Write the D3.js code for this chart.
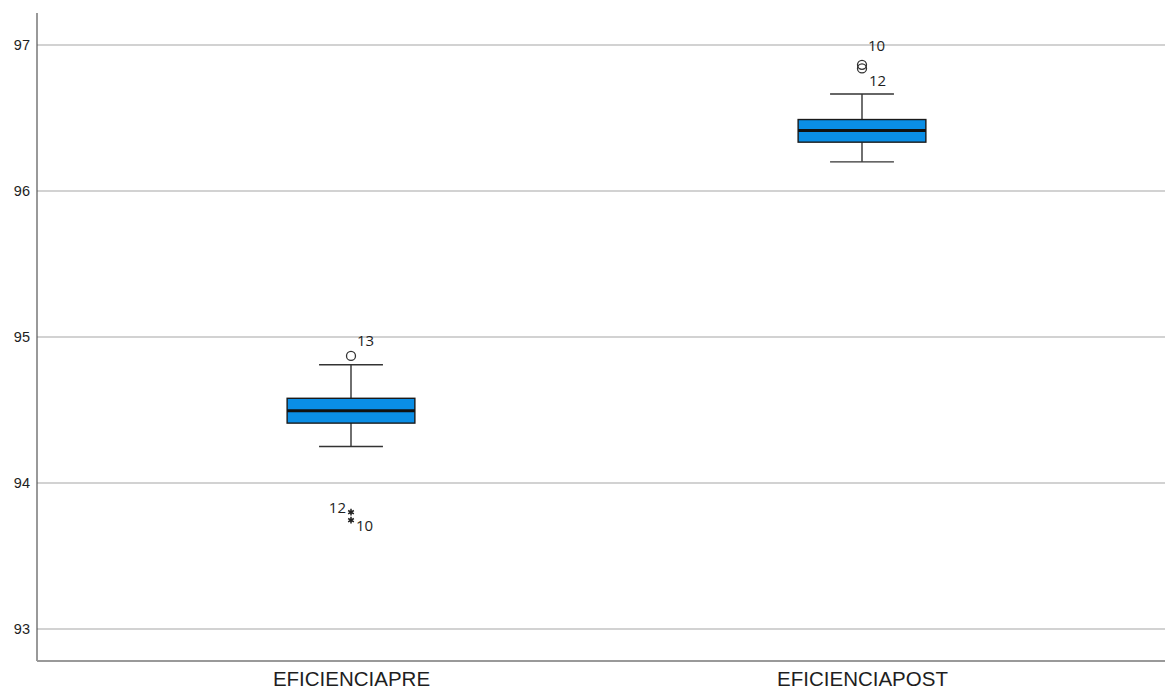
<!DOCTYPE html>
<html>
<head>
<meta charset="utf-8">
<script src="https://cdn.jsdelivr.net/npm/d3@7"></script>
<style>
  html, body { margin: 0; padding: 0; background: #fff; }
  svg { display: block; font-family: "Open Sans", "DejaVu Sans", sans-serif; }
</style>
</head>
<body>
<svg id="chart" width="1165" height="690"></svg>
<script>
// Box plot summary for the two efficiency measurements
const categories = ["EFICIENCIAPRE", "EFICIENCIAPOST"];
const q1Values      = [94.41, 96.335];
const medianValues  = [94.495, 96.415];
const q3Values      = [94.58, 96.49];
const whiskerLow    = [94.25, 96.20];
const whiskerHigh   = [94.81, 96.665];

// Outliers (circle) and extreme values (asterisk), with case labels
const outlierCategory = ["EFICIENCIAPRE", "EFICIENCIAPOST", "EFICIENCIAPOST"];
const outlierValues   = [94.87, 96.865, 96.84];
const outlierLabels   = ["13", "10", "12"];
const extremeCategory = ["EFICIENCIAPRE", "EFICIENCIAPRE"];
const extremeValues   = [93.80, 93.745];
const extremeLabels   = ["12", "10"];

const yTicks = [93, 94, 95, 96, 97];

const svg = d3.select("#chart");
const W = 1165, H = 690;
const plotLeft = 37, plotTop = 13, plotBottom = 661;

const y = d3.scaleLinear().domain([92.78, 97.22]).range([plotBottom, plotTop]);
const x = d3.scalePoint().domain(categories).range([95.5, 1117.5]).padding(0.5);
const boxW = x.step() * 0.25;

// Gridlines
svg.append("g")
  .selectAll("line")
  .data(yTicks)
  .join("line")
  .attr("x1", plotLeft).attr("x2", W)
  .attr("y1", d => y(d)).attr("y2", d => y(d))
  .attr("stroke", "#d2d2d2").attr("stroke-width", 2);

// Y axis
const yAxis = svg.append("g")
  .attr("transform", `translate(${plotLeft},0)`)
  .call(d3.axisLeft(y).tickValues(yTicks).tickSize(0).tickPadding(7).tickFormat(d3.format("d")));
yAxis.select(".domain").remove();
yAxis.selectAll("text").attr("font-size", 14.5).attr("fill", "#1e1e1e");
svg.append("line")
  .attr("x1", plotLeft).attr("x2", plotLeft).attr("y1", plotTop).attr("y2", plotBottom)
  .attr("stroke", "#555").attr("stroke-width", 1.2);

// X axis
const xAxis = svg.append("g")
  .attr("transform", `translate(0,${plotBottom})`)
  .call(d3.axisBottom(x).tickSize(0).tickPadding(10));
xAxis.select(".domain").remove();
xAxis.selectAll("text").attr("font-size", 20.5).attr("fill", "#1e1e1e");
svg.append("line")
  .attr("x1", plotLeft).attr("x2", W).attr("y1", plotBottom).attr("y2", plotBottom)
  .attr("stroke", "#999").attr("stroke-width", 2);

// Boxes
const boxes = categories.map((c, i) => ({
  c, q1: q1Values[i], med: medianValues[i], q3: q3Values[i], lo: whiskerLow[i], hi: whiskerHigh[i]
}));
const g = svg.append("g");
const b = g.selectAll("g.box").data(boxes).join("g").attr("class", "box");

// whisker stems
b.append("line")
  .attr("x1", d => x(d.c)).attr("x2", d => x(d.c))
  .attr("y1", d => y(d.hi)).attr("y2", d => y(d.q3))
  .attr("stroke", "#333").attr("stroke-width", 1.4);
b.append("line")
  .attr("x1", d => x(d.c)).attr("x2", d => x(d.c))
  .attr("y1", d => y(d.q1)).attr("y2", d => y(d.lo))
  .attr("stroke", "#333").attr("stroke-width", 1.4);
// caps
["hi", "lo"].forEach(k => {
  b.append("line")
    .attr("x1", d => x(d.c) - boxW / 4).attr("x2", d => x(d.c) + boxW / 4)
    .attr("y1", d => y(d[k])).attr("y2", d => y(d[k]))
    .attr("stroke", "#333").attr("stroke-width", 1.4);
});
// box body
b.append("rect")
  .attr("x", d => x(d.c) - boxW / 2).attr("width", boxW)
  .attr("y", d => y(d.q3)).attr("height", d => y(d.q1) - y(d.q3))
  .attr("fill", "#0a8ee6").attr("stroke", "#1a1a1a").attr("stroke-width", 1.4);
// median
b.append("line")
  .attr("x1", d => x(d.c) - boxW / 2).attr("x2", d => x(d.c) + boxW / 2)
  .attr("y1", d => y(d.med)).attr("y2", d => y(d.med))
  .attr("stroke", "#111").attr("stroke-width", 3);

// Outlier circles
const outliers = outlierValues.map((v, i) => ({ c: outlierCategory[i], v, label: outlierLabels[i] }));
g.selectAll("circle.out").data(outliers).join("circle")
  .attr("class", "out")
  .attr("cx", d => x(d.c)).attr("cy", d => y(d.v)).attr("r", 4.5)
  .attr("fill", "none").attr("stroke", "#333").attr("stroke-width", 1.3);

// Outlier labels: PRE label above-right; POST labels above and below
const outLabelOffset = [[6, -10], [6, -14], [7, 18]];
g.selectAll("text.outlbl").data(outliers).join("text")
  .attr("class", "outlbl")
  .attr("x", (d, i) => x(d.c) + outLabelOffset[i][0])
  .attr("y", (d, i) => y(d.v) + outLabelOffset[i][1])
  .attr("font-size", 15).attr("fill", "#1e1e1e")
  .text(d => d.label);

// Extreme values (asterisk symbols)
const extremes = extremeValues.map((v, i) => ({ c: extremeCategory[i], v, label: extremeLabels[i] }));
const asterisk = d3.symbol().type(d3.symbolAsterisk).size(30);
g.selectAll("path.star").data(extremes).join("path")
  .attr("class", "star")
  .attr("transform", d => `translate(${x(d.c)},${y(d.v)})`)
  .attr("d", asterisk)
  .attr("fill", "none").attr("stroke", "#222").attr("stroke-width", 1.5);
const extLabelOffset = [[-5, 1, "end"], [5, 11, "start"]];
g.selectAll("text.extlbl").data(extremes).join("text")
  .attr("class", "extlbl")
  .attr("x", (d, i) => x(d.c) + extLabelOffset[i][0])
  .attr("y", (d, i) => y(d.v) + extLabelOffset[i][1])
  .attr("text-anchor", (d, i) => extLabelOffset[i][2])
  .attr("font-size", 15).attr("fill", "#1e1e1e")
  .text(d => d.label);
</script>
</body>
</html>
